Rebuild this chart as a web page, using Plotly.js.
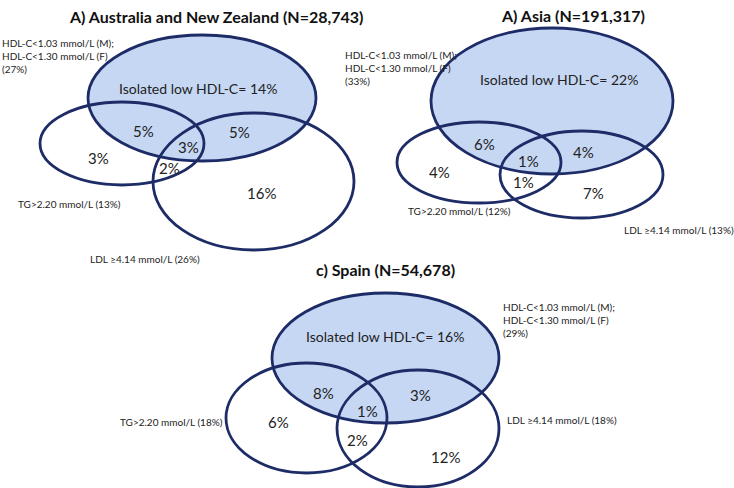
<!DOCTYPE html>
<html>
<head>
<meta charset="utf-8">
<script src="https://cdn.plot.ly/plotly-3.0.1.min.js"></script>
<style>
  html, body { margin: 0; padding: 0; background: #fff; }
  #fig { width: 734px; height: 488px; }
</style>
</head>
<body>
<div id="fig"></div>
<script>
/* Venn diagrams of low HDL-C, high TG and high LDL in three regions */

// panel titles
const panelTitles = ['A) Australia and New Zealand (N=28,743)',
                     'A) Asia (N=191,317)',
                     'c) Spain (N=54,678)'];
// region percentages, one entry per panel
const isolatedHdl = [14, 22, 16];
const hdlTg       = [5, 6, 8];
const hdlLdl      = [5, 4, 3];
const allThree    = [3, 1, 1];
const tgOnly      = [3, 4, 6];
const tgLdl       = [2, 1, 2];
const ldlOnly     = [16, 7, 12];
// set totals
const hdlTotal = [27, 33, 29];
const tgTotal  = [13, 12, 18];
const ldlTotal = [26, 13, 18];

// geometry in page pixels (x0, x1, y0, y1 for each ellipse, text spots)
const geom = [
  { title: [216, 16],
    hdl: [88, 316, 35, 161], tg: [40, 204, 102, 185], ldl: [153, 354, 113, 250],
    iso: [198, 88], hdlTg: [143, 131], hdlLdl: [239, 132], all: [188, 147],
    tgOnly: [98, 158], tgLdl: [169, 168], ldlOnly: [261, 193],
    hdlLab: [0, 35], tgLab: [16, 204], ldlLab: [88, 259] },
  { title: [573, 15],
    hdl: [431, 673, 28, 174], tg: [397, 561, 122, 203], ldl: [500, 663, 131, 218],
    iso: [559, 79], hdlTg: [484, 144], hdlLdl: [583, 152], all: [528, 161],
    tgOnly: [439, 172], tgLdl: [523, 182], ldlOnly: [593, 193],
    hdlLab: [343, 47], tgLab: [406, 211], ldlLab: [622, 230] },
  { title: [385, 269],
    hdl: [272, 499, 293, 423], tg: [226, 387, 363, 473], ldl: [337, 499, 370, 487],
    iso: [385, 336], hdlTg: [323, 393], hdlLdl: [420, 395], all: [367, 411],
    tgOnly: [278, 422], tgLdl: [357, 440], ldlOnly: [445, 457],
    hdlLab: [501, 299], tgLab: [118, 422], ldlLab: [505, 420] }
];

const navy = '#1d2c66';
const fillBlue = '#c6d7f4';
const fontFam = 'Lato, "Open Sans", sans-serif';

let shapes = [];
let annotations = [];

function ell (b, fill, layer) {
  return { type: 'circle', xref: 'x', yref: 'y',
           x0: b[0], x1: b[1], y0: b[2], y1: b[3],
           fillcolor: fill, layer: layer,
           line: { color: fill === 'rgba(0,0,0,0)' ? navy : 'rgba(0,0,0,0)', width: 2.8 } };
}

function txt (p, s, size, anchor, bold) {
  return { x: p[0], y: p[1], xref: 'x', yref: 'y', text: s, showarrow: false,
           xanchor: anchor || 'center', yanchor: 'middle', align: 'left',
           font: { family: fontFam, size: size, color: bold ? '#111' : '#222' } };
}

geom.forEach((g, i) => {
  // filled low HDL-C ellipse under all outlines
  shapes.push(ell (g.hdl, fillBlue, 'below'));
  shapes.push(ell (g.hdl, 'rgba(0,0,0,0)', 'above'));
  shapes.push(ell (g.tg, 'rgba(0,0,0,0)', 'above'));
  shapes.push(ell (g.ldl, 'rgba(0,0,0,0)', 'above'));

  annotations.push(txt (g.title, '<b>' + panelTitles[i] + '</b>', 16, 'center', true));
  annotations.push(txt (g.iso, 'Isolated low HDL-C= ' + isolatedHdl[i] + '%', 14));
  annotations.push(txt (g.hdlTg, hdlTg[i] + '%', 15));
  annotations.push(txt (g.hdlLdl, hdlLdl[i] + '%', 15));
  annotations.push(txt (g.all, allThree[i] + '%', 15));
  annotations.push(txt (g.tgOnly, tgOnly[i] + '%', 15));
  annotations.push(txt (g.tgLdl, tgLdl[i] + '%', 15));
  annotations.push(txt (g.ldlOnly, ldlOnly[i] + '%', 15));

  let h = txt (g.hdlLab,
               'HDL-C&lt;1.03 mmol/L (M);<br>HDL-C&lt;1.30 mmol/L (F)<br>(' + hdlTotal[i] + '%)',
               10, 'left');
  h.yanchor = 'top';
  annotations.push(h);
  annotations.push(txt (g.tgLab, 'TG&gt;2.20 mmol/L (' + tgTotal[i] + '%)', 10, 'left'));
  annotations.push(txt (g.ldlLab, 'LDL ≥4.14 mmol/L (' + ldlTotal[i] + '%)', 10, 'left'));
});

let layout = {
  width: 734, height: 488,
  margin: { l: 0, r: 0, t: 0, b: 0 },
  paper_bgcolor: '#fff', plot_bgcolor: '#fff',
  xaxis: { range: [0, 734], visible: false, fixedrange: true },
  yaxis: { range: [488, 0], visible: false, fixedrange: true },
  showlegend: false,
  shapes: shapes,
  annotations: annotations
};

Plotly.newPlot ('fig', [], layout, { staticPlot: true, displayModeBar: false });
</script>
</body>
</html>
